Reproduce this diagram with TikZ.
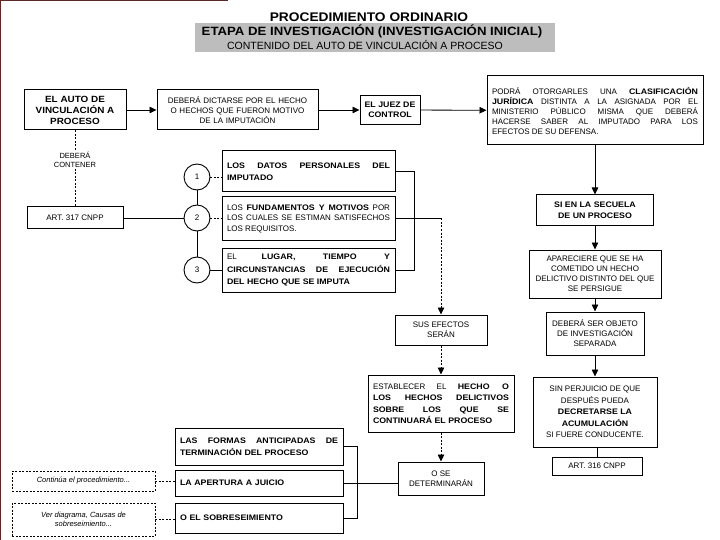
\documentclass[tikz,border=0pt]{standalone}
\usepackage{fontspec}
\setmainfont{Liberation Sans}[BoldFeatures={FakeStretch=1.1}]
\usepackage{xcolor}
\usepackage{tikz}
\usetikzlibrary{arrows.meta,positioning,calc}
\definecolor{ScanEdge}{HTML}{5A2A2A}
\definecolor{ScanGray}{HTML}{BDBDBD}

\begin{document}
\begin{tikzpicture}[
  x=1pt,y=-1pt,
  font=\fontsize{8}{10}\selectfont,
  box/.style={draw,fill=white,line width=1pt,inner sep=4pt,align=center},
  jbox/.style={box,align=justify},
  dbox/.style={draw,dash pattern=on 2pt off 1.5pt,line width=0.7pt,inner sep=3pt,
               align=center,font=\fontsize{7.5}{9}\selectfont\itshape},
  num/.style={draw,circle,line width=0.9pt,minimum size=26pt,inner sep=0pt},
  fl/.style={-{Triangle[length=7pt,width=6.5pt]}},
  ln/.style={line width=0.8pt},
  dl/.style={line width=0.8pt,dash pattern=on 2pt off 1.5pt}
]
\useasboundingbox (0,0) rectangle (720,540);
\draw[ScanEdge,line width=2pt] (0,540) -- (0,0) -- (228,0);
% title
\fill[ScanGray] (195,23) rectangle (555,52);
\node[font=\fontsize{12.5}{14}\selectfont\bfseries] (title) at (369,17) {PROCEDIMIENTO ORDINARIO};
\node[font=\fontsize{12}{14}\selectfont\bfseries] (stage) at (372,31) {ETAPA DE INVESTIGACIÓN (INVESTIGACIÓN INICIAL)};
\node[font=\fontsize{10.5}{12}\selectfont] (content) at (365,45) {CONTENIDO DEL AUTO DE VINCULACIÓN A PROCESO};
% top row
\node[box,minimum width=102,minimum height=40,font=\fontsize{9}{11}\selectfont\bfseries] (auto) at (75,110)
  {EL AUTO DE\\VINCULACIÓN A\\PROCESO};
\node[box,minimum width=161,minimum height=40,text width=153pt] (dictarse) at (237.5,110)
  {DEBERÁ DICTARSE POR EL HECHO\\O HECHOS QUE FUERON MOTIVO\\DE LA IMPUTACIÓN};
\node[box,minimum width=60,minimum height=29,font=\fontsize{8}{10}\selectfont\bfseries] (juez) at (390,110)
  {EL JUEZ DE\\CONTROL};
\node[jbox,minimum width=216,minimum height=69,text width=206pt] (podra) at (595,110.5)
  {PODRÁ OTORGARLES UNA \textbf{CLASIFICACIÓN}\linebreak \textbf{JURÍDICA} DISTINTA A LA ASIGNADA POR EL\linebreak
   MINISTERIO PÚBLICO MISMA QUE DEBERÁ\linebreak HACERSE SABER AL IMPUTADO PARA LOS\linebreak EFECTOS DE SU DEFENSA.};
\draw[ln,fl] (auto) -- (dictarse);
\draw[ln,fl] (dictarse) -- (juez);
\draw[ln,fl] (juez) -- (podra);
% contents of the auto
\node[fill=white,inner sep=1pt,align=center,font=\fontsize{7.5}{9}\selectfont] (contener) at (75,160) {DEBERÁ\\CONTENER};
\node[box,minimum width=96,minimum height=22] (art317) at (75,218) {ART. 317 CNPP};
\draw[dl] (auto) -- (contener);
\draw[dl] (contener) -- (art317);
\node[num] (c1) at (197,177) {1};
\node[num] (c2) at (197,218) {2};
\node[num] (c3) at (197,270) {3};
\node[jbox,minimum width=173,minimum height=41,text width=163pt,font=\fontsize{8}{12}\selectfont\bfseries] (datos) at (308.5,171.5)
  {LOS DATOS PERSONALES DEL\linebreak IMPUTADO};
\node[jbox,minimum width=173,minimum height=43,text width=163pt,font=\fontsize{8}{10.5}\selectfont] (fund) at (308.5,218.5)
  {LOS \textbf{FUNDAMENTOS Y MOTIVOS} POR\linebreak LOS CUALES SE ESTIMAN SATISFECHOS\linebreak LOS REQUISITOS.};
\node[jbox,minimum width=173,minimum height=44,text width=163pt,font=\fontsize{8}{12.5}\selectfont] (lugar) at (308.5,270)
  {EL \textbf{LUGAR, TIEMPO Y}\linebreak \textbf{CIRCUNSTANCIAS DE EJECUCIÓN}\linebreak \textbf{DEL HECHO QUE SE IMPUTA}};
\draw[ln] (c1) -- (c2);
\draw[ln] (c2) -- (c3);
\draw[ln] (art317.east) -- (c2.west);
\draw[dl] (c1.east) -- (c1.east -| datos.west);
\draw[dl] (c2.east) -- (c2.east -| fund.west);
\draw[ln] (c3.east) -- (c3.east -| lugar.west);
\draw[ln] (datos.east) -- ++(19,0) |- (lugar.east);
% effects
\node[box,minimum width=92,minimum height=30] (efectos) at (441,330) {SUS EFECTOS\\SERÁN};
\node[jbox,minimum width=146,minimum height=57,text width=136pt,font=\fontsize{8}{11.5}\selectfont] (establecer) at (441,403.5)
  {ESTABLECER EL \textbf{HECHO O}\linebreak \textbf{LOS HECHOS DELICTIVOS}\linebreak \textbf{SOBRE LOS QUE SE}\linebreak \textbf{CONTINUARÁ EL PROCESO}};
\node[box,minimum width=86,minimum height=33] (determ) at (441,478.5) {O SE\\DETERMINARÁN};
\coordinate (turn) at (fund.east -| efectos.north);
\draw[ln] (fund.east) -- (turn);
\draw[dl,fl] (turn) -- (efectos.north);
\draw[dl,fl] (efectos) -- (establecer);
\draw[dl,fl] (establecer) -- (determ);
% outcomes
\node[jbox,minimum width=168,minimum height=37,text width=158pt,font=\fontsize{8}{12}\selectfont\bfseries] (formas) at (259,446.5)
  {LAS FORMAS ANTICIPADAS DE\linebreak TERMINACIÓN DEL PROCESO};
\node[box,align=left,minimum width=168,minimum height=26,text width=158pt,font=\fontsize{8}{10}\selectfont\bfseries] (apertura) at (259,483)
  {LA APERTURA A JUICIO};
\node[box,align=left,minimum width=168,minimum height=30,text width=158pt,font=\fontsize{8}{10}\selectfont\bfseries] (sobres) at (259,518)
  {O EL SOBRESEIMIENTO};
\node[dbox,minimum width=143,minimum height=20] (continua) at (83.5,481) {Continúa el procedimiento...};
\node[dbox,minimum width=143,minimum height=33] (verdiag) at (83.5,519.5) {Ver diagrama, Causas de\\sobreseimiento...};
\draw[ln] (formas.east) -- ++(14,0) |- (sobres.east);
\draw[ln] (apertura.east) -- (apertura.east -| determ.west);
\draw[dl] (continua.east) -- (continua.east -| apertura.west);
\draw[dl] (verdiag.east) -- (verdiag.east -| sobres.west);
% other offence
\node[box,minimum width=117,minimum height=31,font=\fontsize{8}{11}\selectfont\bfseries] (secuela) at (595,210.5)
  {SI EN LA SECUELA\\DE UN PROCESO};
\node[box,minimum width=132,minimum height=48] (apareciere) at (595,274)
  {APARECIERE QUE SE HA\\COMETIDO UN HECHO\\DELICTIVO DISTINTO DEL QUE\\SE PERSIGUE};
\node[box,minimum width=98,minimum height=43] (objeto) at (595,333.5)
  {DEBERÁ SER OBJETO\\DE INVESTIGACIÓN\\SEPARADA};
\node[box,minimum width=124,minimum height=70,font=\fontsize{8}{11.5}\selectfont] (perjuicio) at (595,412)
  {SIN PERJUICIO DE QUE\\DESPUÉS PUEDA\\\textbf{DECRETARSE LA}\\\textbf{ACUMULACIÓN}\\SI FUERE CONDUCENTE.};
\node[box,minimum width=90,minimum height=18,inner sep=2pt] (art316) at (597,466) {ART. 316 CNPP};
\draw[ln,fl] (podra) -- (secuela);
\draw[ln,fl] (secuela) -- (apareciere);
\draw[ln,fl] (apareciere) -- (objeto);
\draw[ln,fl] (objeto) -- (perjuicio);
\draw[ln] (perjuicio.south -| art316.north) -- (art316.north);
\end{tikzpicture}
\end{document}
